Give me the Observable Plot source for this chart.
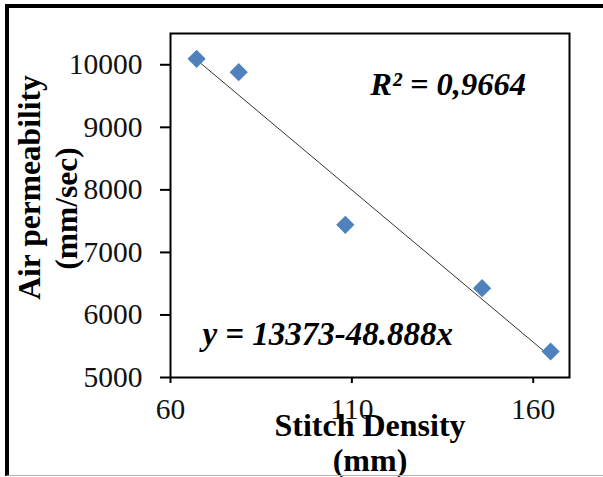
<!DOCTYPE html>
<html><head><meta charset="utf-8">
<script src="https://cdn.jsdelivr.net/npm/d3@7"></script>
<script src="https://cdn.jsdelivr.net/npm/@observablehq/plot@0.6"></script>
<style>
html,body{margin:0;padding:0;background:#fff;}
#wrap{position:relative;width:603px;height:477px;overflow:hidden;}
#chart{position:absolute;left:0;top:0;}
#border{position:absolute;left:5px;top:4px;width:700px;height:467px;border-top:4px solid #000;border-left:4px solid #000;border-bottom:1px solid #b4b4b4;}
</style></head><body>
<div id="wrap"><div id="chart"></div><div id="border"></div></div>
<script>
// Data
const stitchDensity = [67.2, 78.8, 108.2, 145.9, 164.8];
const airPermeability = [10095, 9881, 7441, 6428, 5416];
const xTicks = [60, 110, 160];
const yTicks = [5000, 6000, 7000, 8000, 9000, 10000];
const xTitle = "Stitch Density\n(mm)";
const yTitleLine1 = "Air permeability";
const yTitleLine2 = "(mm/sec)";
const equationText = "y = 13373-48.888x";
const r2Text = "R² = 0,9664";

// annotation anchors (data units)
const equationAnchor = {x: 68.8, y: 5512};
const r2Anchor = {x: 115.1, y: 9524};

const points = stitchDensity.map((x, i) => ({x, y: airPermeability[i]}));
const serif = "'Liberation Serif', 'Times New Roman', serif";

const chart = Plot.plot({
  width: 603,
  height: 477,
  marginLeft: 170,
  marginRight: 34,
  marginTop: 33,
  marginBottom: 100,
  style: {fontFamily: serif, fontSize: "29.5px", color: "#111", background: "transparent"},
  x: {domain: [60, 170]},
  y: {domain: [5000, 10500]},
  marks: [
    Plot.axisX({ticks: xTicks, tickSize: 6, tickPadding: 15, strokeWidth: 2, stroke: "#000", label: null, fontSize: 29.5}),
    Plot.axisY({ticks: yTicks, tickSize: 10, tickPadding: 18, strokeWidth: 2, stroke: "#000", label: null, tickFormat: d3.format("d"), fontSize: 29.5}),
    Plot.linearRegressionY(points, {x: "x", y: "y", ci: 0, stroke: "#333", strokeWidth: 1}),
    Plot.dot(points, {x: "x", y: "y", symbol: "diamond2", r: 8.2, fill: "#4F81BD", stroke: "none"}),
    Plot.text([r2Text], {x: r2Anchor.x, y: r2Anchor.y, text: d => d, textAnchor: "start", lineAnchor: "bottom", fontSize: 32.5, fontWeight: "bold", fontStyle: "italic", fontFamily: serif, fill: "#000"}),
    Plot.text([equationText], {x: equationAnchor.x, y: equationAnchor.y, text: d => d, textAnchor: "start", lineAnchor: "bottom", fontSize: 33, fontWeight: "bold", fontStyle: "italic", fontFamily: serif, fill: "#000"}),
    Plot.text([xTitle], {frameAnchor: "bottom", text: d => d, textAnchor: "middle", lineAnchor: "top", dy: 33, lineHeight: 1.1, fontSize: 32, fontWeight: "bold", fontFamily: serif, fill: "#000"}),
    Plot.text([yTitleLine1], {frameAnchor: "left", text: d => d, rotate: -90, textAnchor: "middle", lineAnchor: "bottom", dx: -131, dy: -18, fontSize: 31.5, fontWeight: "bold", fontFamily: serif, fill: "#000"}),
    Plot.text([yTitleLine2], {frameAnchor: "left", text: d => d, rotate: -90, textAnchor: "middle", lineAnchor: "bottom", dx: -94, dy: 3, fontSize: 31.5, fontWeight: "bold", fontFamily: serif, fill: "#000"}),
    Plot.frame({stroke: "#000", strokeWidth: 2})
  ]
});
document.getElementById("chart").appendChild(chart);
</script>
</body></html>
